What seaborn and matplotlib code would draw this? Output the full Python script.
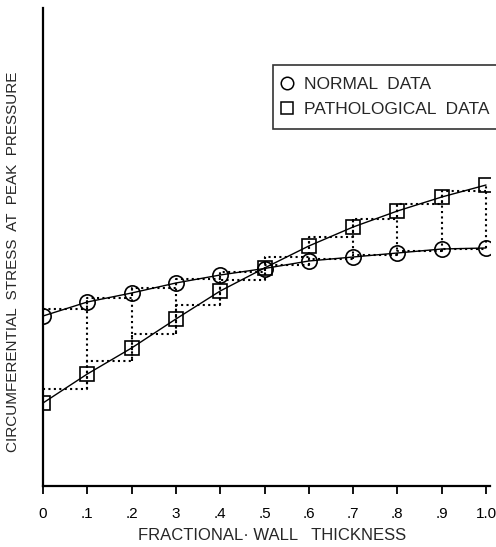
import numpy as np
import seaborn as sns
import matplotlib.pyplot as plt
from matplotlib.lines import Line2D

# valores (unidades arbitrárias de tensão)
thickness = [0.0, 0.1, 0.2, 0.3, 0.4, 0.5, 0.6, 0.7, 0.8, 0.9, 1.0]
normal = [1.70, 1.84, 1.93, 2.03, 2.11, 2.175, 2.25, 2.29, 2.33, 2.37, 2.38]
pathological = [0.83, 1.12, 1.38, 1.67, 1.95, 2.18, 2.40, 2.59, 2.75, 2.89, 3.01]
tick_labels = ['0', '.1', '.2', '3', '.4', '.5', '.6', '.7', '.8', '.9', '1.0']

sns.set_style('white')
plt.rcParams['font.family'] = ['Liberation Sans', 'DejaVu Sans']

fig = plt.figure(figsize=(4.96, 5.47), dpi=100)
ax = fig.add_axes([43 / 496, 61 / 547, 447 / 496, 478 / 547])

x = np.array(thickness)
c = np.array(normal)
s = np.array(pathological)

# degraus pontilhados (média de cada camada)
c_lvl = (c[:-1] + c[1:]) / 2
s_lvl = (s[:-1] + s[1:]) / 2
dot = dict(color='black', lw=1.5, linestyle=(0, (1, 1.6)))
sns.lineplot(x=x, y=np.append(c_lvl, c_lvl[-1]), drawstyle='steps-post', ax=ax, **dot)
sns.lineplot(x=x, y=np.append(s_lvl, s_lvl[-1]), drawstyle='steps-post', ax=ax, **dot)

# linhas verticais pontilhadas ligando os dois degraus
for i in range(1, len(x)):
    if i < len(x) - 1:
        vals = [c_lvl[i - 1], c_lvl[i], s_lvl[i - 1], s_lvl[i]]
    else:
        vals = [c[i], s[i]]
    ax.vlines(x[i], min(vals), max(vals), **dot)

# curvas contínuas com marcadores
sns.lineplot(x=x, y=c, ax=ax, color='black', lw=1.0, marker='o', markersize=11,
             markerfacecolor='none', markeredgecolor='black', markeredgewidth=1.2)
sns.lineplot(x=x, y=s, ax=ax, color='black', lw=1.0, marker='s', markersize=10,
             markerfacecolor='none', markeredgecolor='black', markeredgewidth=1.2)

ax.set_xlim(0, 1.009)
ax.set_ylim(0, 4.78)
ax.set_xticks(thickness)
ax.set_xticklabels(tick_labels, fontsize=11)
ax.set_yticks([])
ax.tick_params(axis='x', direction='out', length=6, width=1.3, pad=9, bottom=True, colors='black')
for side in ['top', 'right']:
    ax.spines[side].set_visible(False)
for side in ['left', 'bottom']:
    ax.spines[side].set_color('black')
    ax.spines[side].set_linewidth(1.6)

ax.set_xlabel('FRACTIONAL\u00b7 WALL   THICKNESS', fontsize=12)
ax.xaxis.set_label_coords((272 - 43) / 447, -(536 - 486) / 478)
ax.set_ylabel('CIRCUMFERENTIAL  STRESS  AT  PEAK  PRESSURE', fontsize=11)
ax.yaxis.set_label_coords((13 - 43) / 447, (486 - 262) / 478)
ax.xaxis.label.set_va('center')
ax.yaxis.label.set_va('center')

handles = [
    Line2D([], [], linestyle='none', marker='o', markersize=9, markerfacecolor='none',
           markeredgecolor='black', markeredgewidth=1.1),
    Line2D([], [], linestyle='none', marker='s', markersize=8, markerfacecolor='none',
           markeredgecolor='black', markeredgewidth=1.1),
]
leg = fig.legend(handles, ['NORMAL  DATA', 'PATHOLOGICAL  DATA'], loc='upper left',
                 bbox_to_anchor=(273 / 496, 1 - 65 / 547), frameon=True,
                 prop={'size': 12.5},
                 fancybox=False, borderpad=0.7, handlelength=0.2, handletextpad=0.9,
                 labelspacing=0.55, borderaxespad=0)
leg.get_frame().set_edgecolor('black')
leg.get_frame().set_linewidth(1.2)

fig.savefig('out.png', dpi=100)
